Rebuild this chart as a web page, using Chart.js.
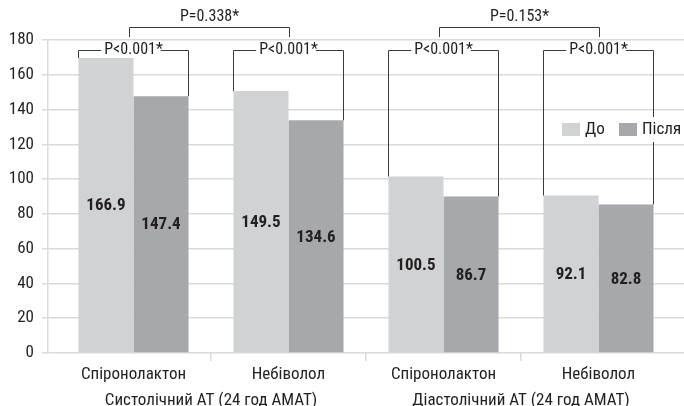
<!DOCTYPE html>
<html>
<head>
<meta charset="utf-8">
<script src="https://cdn.jsdelivr.net/npm/chart.js@4.4.1/dist/chart.umd.min.js"></script>
<style>
  html, body { margin: 0; padding: 0; background: #fff; }
</style>
</head>
<body>
<canvas id="bp-chart" width="684" height="406"></canvas>
<script>
var drugs = ['Спіронолактон', 'Небіволол', 'Спіронолактон', 'Небіволол'];
var groups = ['Систолічний АТ (24 год АМАТ)', 'Діастолічний АТ (24 год АМАТ)'];
var series_names = ['До', 'Після'];
// bar heights as they are drawn in the picture
var before_values = [169.6, 150.6, 101.5, 90.6];
var after_values = [147.7, 133.8, 90.0, 85.4];
// values printed on the bars
var before_labels = ['166.9', '149.5', '100.5', '92.1'];
var after_labels = ['147.4', '134.6', '86.7', '82.8'];
var pair_p = ['P<0.001*', 'P<0.001*', 'P<0.001*', 'P<0.001*'];
var group_p = ['P=0.338*', 'P=0.153*'];

var font_family = "'Roboto Condensed', 'DejaVu Sans Condensed', sans-serif";
var text_color = '#231f20';
var grid_color = '#dadada';
var light_bar = '#d1d2d4';
var dark_bar = '#a7a8ab';

Chart.defaults.font.family = font_family;
Chart.defaults.color = text_color;

// move the category axes a bit inside the plot area, like the original
var inset_x = {
  id: 'inset_x',
  afterLayout(chart) {
    var area = chart.chartArea;
    ['x', 'x2'].forEach(function(id) {
      var s = chart.scales[id];
      s.left = area.left + 8;
      s.right = area.right - 8;
      s.width = s.right - s.left;
      s.configure();
    });
  }
};

var bar_text = {
  id: 'bar_text',
  afterDatasetsDraw(chart) {
    var c = chart.ctx;
    c.save();
    // values in the middle of each bar
    c.font = 'bold 17px ' + font_family;
    c.fillStyle = text_color;
    c.textAlign = 'center';
    c.textBaseline = 'middle';
    chart.data.datasets.forEach(function(ds, di) {
      chart.getDatasetMeta(di).data.forEach(function(bar, i) {
        var p = bar.getCenterPoint();
        c.fillText(ds.printed[i], p.x, p.y + 1);
      });
    });

    // brackets over each До/Після pair
    var m0 = chart.getDatasetMeta(0).data;
    var m1 = chart.getDatasetMeta(1).data;
    var pair_y = 50.5;
    c.font = '16px ' + font_family;
    c.strokeStyle = '#3a3a3a';
    c.lineWidth = 1;
    for (var i = 0; i < drugs.length; i++) {
      var a = m0[i], b = m1[i];
      var x0 = Math.round(a.x - a.width / 2) + 0.5;
      var x1 = Math.round(b.x + b.width / 2) - 0.5;
      var cx = (x0 + x1) / 2;
      var w = c.measureText(pair_p[i]).width;
      c.beginPath();
      c.moveTo(x0, a.y);
      c.lineTo(x0, pair_y);
      c.lineTo(cx - w / 2 - 3, pair_y);
      c.moveTo(cx + w / 2 - 2, pair_y);
      c.lineTo(x1, pair_y);
      c.lineTo(x1, b.y);
      c.stroke();
      c.fillText(pair_p[i], cx, pair_y - 1);
    }

    // brackets between the two drugs of each group
    var xs = chart.scales.x;
    for (var g = 0; g < groups.length; g++) {
      var ca = Math.round(xs.getPixelForValue(2 * g)) - 4.5;
      var cb = Math.round(xs.getPixelForValue(2 * g + 1)) + 0.5;
      c.beginPath();
      c.moveTo(ca, 37);
      c.lineTo(ca, 27.5);
      c.lineTo(cb, 27.5);
      c.lineTo(cb, 37);
      c.stroke();
      c.fillText(group_p[g], (ca + cb) / 2, 17);
    }
    c.restore();
  }
};

var side_legend = {
  id: 'side_legend',
  afterDraw(chart) {
    var c = chart.ctx;
    var x = chart.chartArea.right - 122;
    var y = 123;
    c.save();
    c.fillStyle = '#fff';
    c.fillRect(x - 5, y - 6, 127, 25);
    c.font = '17px ' + font_family;
    c.textBaseline = 'middle';
    c.textAlign = 'left';
    chart.data.datasets.forEach(function(ds, i) {
      var bx = x + i * 57;
      c.fillStyle = ds.backgroundColor;
      c.fillRect(bx, y, 18, 13);
      c.fillStyle = text_color;
      c.fillText(ds.label, bx + 23, y + 7);
    });
    c.restore();
  }
};

var ctx = document.getElementById('bp-chart').getContext('2d');
new Chart(ctx, {
  type: 'bar',
  data: {
    labels: drugs,
    datasets: [
      {
        label: series_names[0],
        data: before_values,
        printed: before_labels,
        backgroundColor: light_bar,
        categoryPercentage: 0.71,
        barPercentage: 1.0
      },
      {
        label: series_names[1],
        data: after_values,
        printed: after_labels,
        backgroundColor: dark_bar,
        categoryPercentage: 0.71,
        barPercentage: 1.0
      }
    ]
  },
  options: {
    responsive: false,
    animation: false,
    events: [],
    layout: { padding: { top: 40, left: 0, right: 0, bottom: 0 } },
    scales: {
      x: {
        grid: {
          offset: true,
          drawOnChartArea: false,
          tickLength: 8,
          lineWidth: 1.5,
          color: function(c) {
            return (c.type === 'tick' && c.index > 0) ? grid_color : 'transparent';
          }
        },
        border: { display: false },
        ticks: { padding: 5, font: { size: 17, lineHeight: 1 } },
        afterFit: function(s) { s.height = 32; }
      },
      x2: {
        type: 'category',
        position: 'bottom',
        labels: groups,
        grid: { display: false, drawTicks: false },
        border: { display: false },
        ticks: { padding: 7, font: { size: 17, lineHeight: 1 } },
        afterFit: function(s) { s.height = 21; }
      },
      y: {
        min: 0,
        max: 180,
        ticks: { stepSize: 20, padding: 8, font: { size: 17 } },
        grid: { color: grid_color, lineWidth: 1.5, tickLength: 6 },
        border: { color: grid_color, width: 1.5 },
        afterFit: function(s) { s.width = 48; }
      }
    },
    plugins: {
      legend: { display: false },
      tooltip: { enabled: false }
    }
  },
  plugins: [inset_x, bar_text, side_legend]
});
</script>
</body>
</html>
